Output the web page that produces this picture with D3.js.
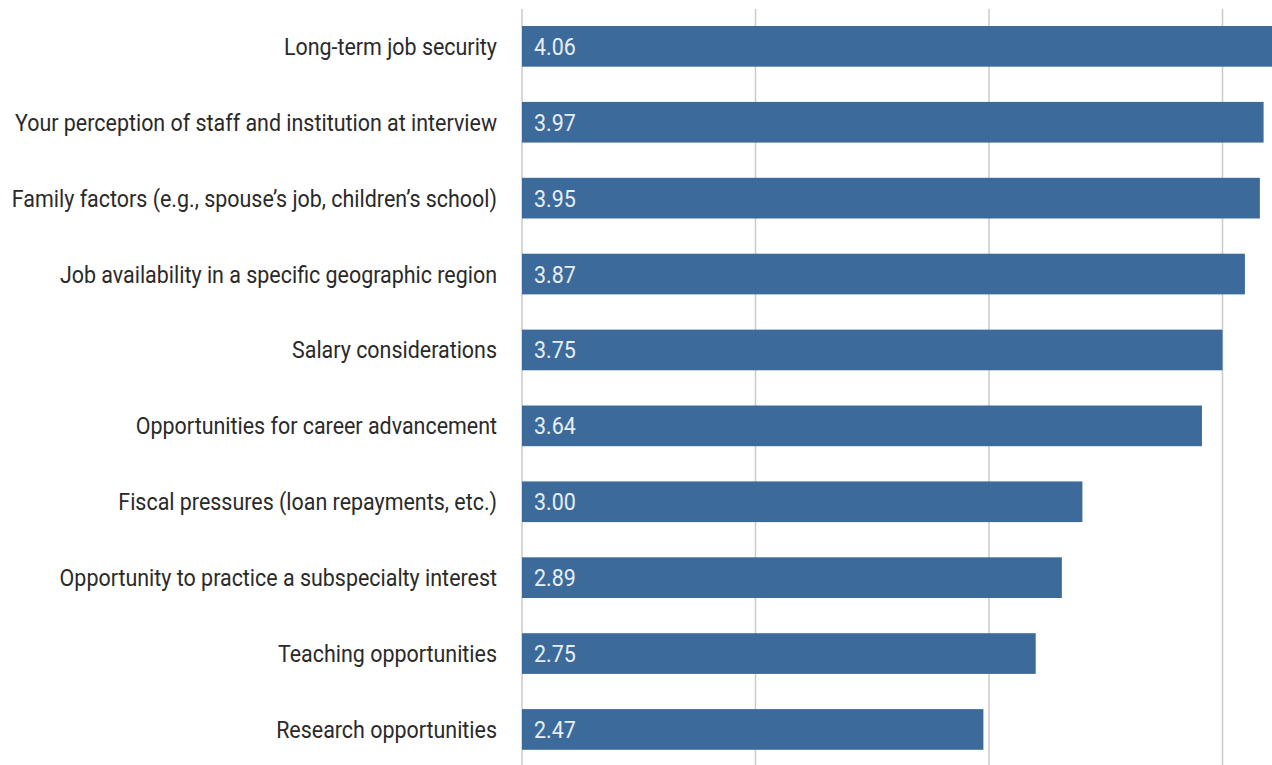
<!DOCTYPE html>
<html>
<head>
<meta charset="utf-8">
<script src="https://cdn.jsdelivr.net/npm/d3@7"></script>
<style>
  html, body { margin: 0; padding: 0; background: #fff; }
  svg { display: block; }
  text { font-family: "Roboto", "Liberation Sans", sans-serif; }
</style>
</head>
<body>
<svg id="chart" width="1272" height="765"></svg>
<script>
// Mean importance ratings of factors in choosing a job
const categories = [
  "Long-term job security",
  "Your perception of staff and institution at interview",
  "Family factors (e.g., spouse\u2019s job, children\u2019s school)",
  "Job availability in a specific geographic region",
  "Salary considerations",
  "Opportunities for career advancement",
  "Fiscal pressures (loan repayments, etc.)",
  "Opportunity to practice a subspecialty interest",
  "Teaching opportunities",
  "Research opportunities"
];
const values = [4.06, 3.97, 3.95, 3.87, 3.75, 3.64, 3.00, 2.89, 2.75, 2.47];
const gridTicks = [0, 1.25, 2.5, 3.75];

const width = 1272, height = 765;
const fontSize = 24;
const squeeze = 0.893;   // horizontal condensing of the text
const svg = d3.select("#chart");

const x = d3.scaleLinear().domain([0, 5]).range([522, 522 + 5 * 186.8]);
const y = d3.scaleBand()
  .domain(categories)
  .range([8.4, 767.4])
  .paddingInner(0.464)
  .paddingOuter(0.232);

// vertical gridlines (first one doubles as the category axis)
svg.append("g")
  .selectAll("line")
  .data(gridTicks)
  .join("line")
  .attr("x1", d => x(d)).attr("x2", d => x(d))
  .attr("y1", 9).attr("y2", height)
  .attr("stroke", "#cbcbcb")
  .attr("stroke-width", 1.5);

// bars
svg.append("g")
  .selectAll("rect")
  .data(values)
  .join("rect")
  .attr("x", x(0))
  .attr("y", (d, i) => y(categories[i]))
  .attr("width", d => x(d) - x(0))
  .attr("height", y.bandwidth())
  .attr("fill", "#3c6b9b");

// value labels inside bars
svg.append("g")
  .selectAll("text")
  .data(values)
  .join("text")
  .attr("transform", (d, i) =>
    `translate(${x(0) + 12},${y(categories[i]) + y.bandwidth() / 2 + 8.5}) scale(${squeeze},1)`)
  .attr("fill", "#e9eef5")
  .style("font-size", fontSize + "px")
  .text(d => d3.format(".2f")(d));

// category labels, right-aligned against the axis
svg.append("g")
  .selectAll("text")
  .data(categories)
  .join("text")
  .attr("transform", d =>
    `translate(${x(0) - 25},${y(d) + y.bandwidth() / 2 + 8.5}) scale(${squeeze},1)`)
  .attr("text-anchor", "end")
  .attr("fill", "#2a2a2a")
  .style("font-size", fontSize + "px")
  .text(d => d);
</script>
</body>
</html>
